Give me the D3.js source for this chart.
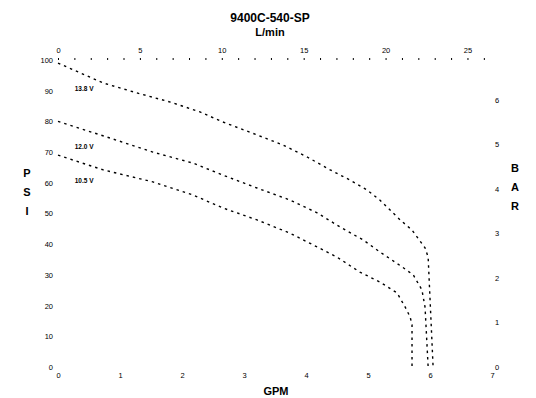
<!DOCTYPE html>
<html><head><meta charset="utf-8">
<script src="https://cdn.jsdelivr.net/npm/d3@7/dist/d3.min.js"></script>
<style>
body{margin:0;background:#fff;}
svg{display:block;font-family:"Liberation Sans",Arial,sans-serif;}
</style></head>
<body><svg id="c" width="536" height="398"></svg>
<script>
const title = "9400C-540-SP";
const topTitle = "L/min";
const xTitle = "GPM";
const yTitle = "PSI";
const y2Title = "BAR";
const gpmTicks = [0,1,2,3,4,5,6,7];
const psiTicks = [0,10,20,30,40,50,60,70,80,90,100];
const barTicks = [0,1,2,3,4,5,6];
const lpmTicks = [0,5,10,15,20,25];
const seriesNames = ["13.8 V", "12.0 V", "10.5 V"];
const curve1 = [[0,99],[0.73,92.5],[1.27,89.3],[1.81,86.3],[2.29,83.1],[2.66,79.8],[3.21,75.6],[3.63,72.3],[4.02,68.4],[4.39,64.2],[4.71,60.9],[4.98,57.7],[5.19,54.4],[5.52,47.9],[5.71,44.6],[5.92,38.8],[5.97,35.8],[6.05,0]];
const curve2 = [[0,80],[0.79,74.9],[1.53,70.0],[2.18,66.4],[2.66,62.5],[3.21,58.3],[3.74,54.4],[4.18,50.2],[4.55,45.6],[4.92,41.4],[5.19,37.5],[5.55,32.6],[5.73,30.0],[5.87,25.1],[5.92,19.5],[5.97,0]];
const curve3 = [[0,69],[0.73,64.2],[1.53,60.3],[2.18,56.0],[2.66,51.8],[3.21,47.9],[3.74,43.6],[4.18,39.1],[4.5,35.8],[4.87,30.9],[5.19,27.7],[5.47,24.1],[5.6,19.5],[5.68,16.3],[5.71,13.7],[5.71,0]];
const curves = [curve1, curve2, curve3];

const svg = d3.select("#c");
const x = d3.scaleLinear().domain([0,7]).range([58,492]);
const y = d3.scaleLinear().domain([0,100]).range([367,60]);
const PSI_PER_BAR = 14.5038, LPM_PER_GPM = 3.78541;
const yBar = d3.scaleLinear().domain([0,100/PSI_PER_BAR]).range([367,60]);
const xL = d3.scaleLinear().domain([0,7*LPM_PER_GPM]).range([58,492]);
const fmt = d3.format("d");

function style(g){
  g.select(".domain").remove();
  g.selectAll("text").attr("font-size",7.5).attr("fill","#000");
}
svg.append("g").attr("transform","translate(55,0)")
  .call(d3.axisLeft(y).tickValues(psiTicks).tickFormat(fmt).tickSize(0).tickPadding(2)).call(style);
svg.append("g").attr("transform","translate(0,371)")
  .call(d3.axisBottom(x).tickValues(gpmTicks).tickFormat(fmt).tickSize(0).tickPadding(2)).call(style);
svg.append("g").attr("transform","translate(493,0)")
  .call(d3.axisRight(yBar).tickValues(barTicks).tickFormat(fmt).tickSize(0).tickPadding(2)).call(style);
// top minor ticks
svg.append("g").attr("transform","translate(0,60)")
  .call(d3.axisTop(xL).tickValues(d3.range(0,27,1)).tickSize(2).tickFormat(""))
  .call(g=>{g.select(".domain").remove(); g.selectAll("line").attr("stroke","#000");});
svg.append("g").attr("transform","translate(0,55)")
  .call(d3.axisTop(xL).tickValues(lpmTicks).tickFormat(fmt).tickSize(0).tickPadding(2)).call(style);

svg.append("text").attr("x",270).attr("y",22).attr("text-anchor","middle")
  .attr("font-size",12).attr("font-weight","bold").text(title);
svg.append("text").attr("x",270).attr("y",36).attr("text-anchor","middle")
  .attr("font-size",11).attr("font-weight","bold").text(topTitle);
svg.append("text").attr("x",276).attr("y",395).attr("text-anchor","middle")
  .attr("font-size",11).attr("font-weight","bold").text(xTitle);
yTitle.split("").forEach((ch,i)=>svg.append("text").attr("x",27).attr("y",177+i*19)
  .attr("text-anchor","middle").attr("font-size",11).attr("font-weight","bold").text(ch));
y2Title.split("").forEach((ch,i)=>svg.append("text").attr("x",515).attr("y",172+i*19)
  .attr("text-anchor","middle").attr("font-size",11).attr("font-weight","bold").text(ch));

const line = d3.line().x(d=>x(d[0])).y(d=>y(d[1]));
curves.forEach((c,i)=>{
  svg.append("path").attr("d",line(c)).attr("fill","none").attr("stroke","#000")
    .attr("stroke-width",1.4).attr("stroke-dasharray","2.5,4");
  svg.append("text").attr("x",x(0.27)).attr("y",y(c[0][1]) + 28)
    .attr("font-size",6.5).attr("font-weight","bold").text(seriesNames[i]);
});
</script></body></html>
